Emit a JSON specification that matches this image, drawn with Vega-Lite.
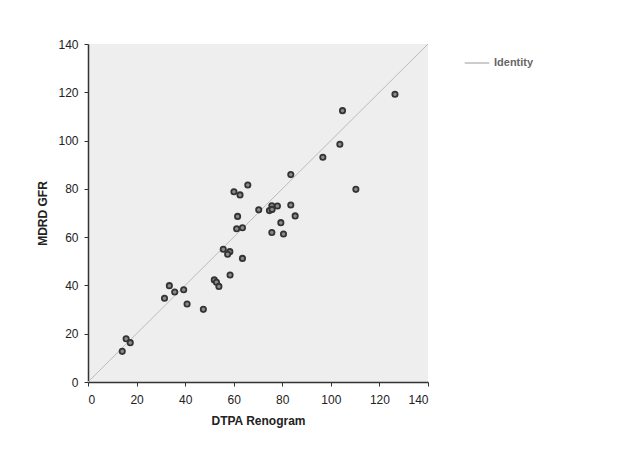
{
  "$schema": "https://vega.github.io/schema/vega-lite/v6.json",
  "width": 340,
  "height": 338,
  "autosize": {"type": "none"},
  "padding": {"left": 88, "top": 44, "right": 195, "bottom": 68},
  "background": "white",
  "config": {
    "view": {"fill": "#eeeeee", "stroke": null},
    "font": "Liberation Sans",
    "axis": {
      "grid": false,
      "domainColor": "#333333",
      "domainWidth": 1.5,
      "tickColor": "#333333",
      "tickSize": 4,
      "labelFont": "Liberation Sans",
      "labelFontSize": 12,
      "labelColor": "#222222",
      "titleFont": "Liberation Sans",
      "titleFontSize": 12,
      "titleFontWeight": "bold",
      "titleColor": "#222222"
    }
  },
  "layer": [
    {
      "data": {"values": [
        {"x": 0, "y": 0, "s": "Identity"},
        {"x": 140, "y": 140, "s": "Identity"}
      ]},
      "mark": {"type": "line", "strokeWidth": 1},
      "encoding": {
        "x": {"field": "x", "type": "quantitative"},
        "y": {"field": "y", "type": "quantitative"},
        "color": {
          "field": "s", "type": "nominal",
          "scale": {"range": ["#bbbbbb"]},
          "legend": {
            "title": null,
            "orient": "none",
            "legendX": 376,
            "legendY": 6,
            "symbolType": "stroke",
            "symbolSize": 600,
            "symbolStrokeWidth": 1.5,
            "labelFontSize": 11,
            "labelFontWeight": "bold",
            "labelColor": "#666666"
          }
        }
      }
    },
    {
      "data": {"values": [
        {"dtpa": 126.4, "mdrd": 119.2},
        {"dtpa": 104.8, "mdrd": 112.4},
        {"dtpa": 103.7, "mdrd": 98.5},
        {"dtpa": 96.7, "mdrd": 93.1},
        {"dtpa": 83.5, "mdrd": 85.9},
        {"dtpa": 110.3, "mdrd": 79.8},
        {"dtpa": 65.8, "mdrd": 81.6},
        {"dtpa": 60.1, "mdrd": 78.8},
        {"dtpa": 62.6, "mdrd": 77.5},
        {"dtpa": 70.3, "mdrd": 71.3},
        {"dtpa": 75.7, "mdrd": 73.0},
        {"dtpa": 78.0, "mdrd": 72.9},
        {"dtpa": 74.7, "mdrd": 71.0},
        {"dtpa": 75.8, "mdrd": 71.5},
        {"dtpa": 83.5, "mdrd": 73.3},
        {"dtpa": 85.3, "mdrd": 68.8},
        {"dtpa": 61.6, "mdrd": 68.6},
        {"dtpa": 79.4, "mdrd": 66.0},
        {"dtpa": 61.2, "mdrd": 63.5},
        {"dtpa": 63.6, "mdrd": 63.9},
        {"dtpa": 75.7, "mdrd": 61.9},
        {"dtpa": 80.5, "mdrd": 61.3},
        {"dtpa": 55.7, "mdrd": 55.0},
        {"dtpa": 58.4, "mdrd": 54.0},
        {"dtpa": 57.5, "mdrd": 52.9},
        {"dtpa": 63.6, "mdrd": 51.2},
        {"dtpa": 58.5, "mdrd": 44.3},
        {"dtpa": 52.0, "mdrd": 42.3},
        {"dtpa": 52.9, "mdrd": 41.3},
        {"dtpa": 53.9, "mdrd": 39.6},
        {"dtpa": 33.5, "mdrd": 39.9},
        {"dtpa": 35.7, "mdrd": 37.3},
        {"dtpa": 39.4, "mdrd": 38.2},
        {"dtpa": 31.5, "mdrd": 34.7},
        {"dtpa": 40.8, "mdrd": 32.3},
        {"dtpa": 47.5, "mdrd": 30.1},
        {"dtpa": 15.7, "mdrd": 17.9},
        {"dtpa": 17.4, "mdrd": 16.3},
        {"dtpa": 14.1, "mdrd": 12.7}
      ]},
      "mark": {"type": "point", "shape": "circle", "filled": false, "size": 28, "stroke": "#333333", "strokeWidth": 1.8, "fill": "#8a8a8a", "fillOpacity": 1},
      "encoding": {
        "x": {"field": "dtpa", "type": "quantitative", "title": "DTPA Renogram",
              "scale": {"domain": [0, 140], "nice": false, "zero": true},
              "axis": {"values": [0, 20, 40, 60, 80, 100, 120, 140], "labelPadding": 8, "titlePadding": 10}},
        "y": {"field": "mdrd", "type": "quantitative", "title": "MDRD GFR",
              "scale": {"domain": [0, 140], "nice": false, "zero": true},
              "axis": {"values": [0, 20, 40, 60, 80, 100, 120, 140], "labelPadding": 6, "titlePadding": 8}}
      }
    }
  ]
}
